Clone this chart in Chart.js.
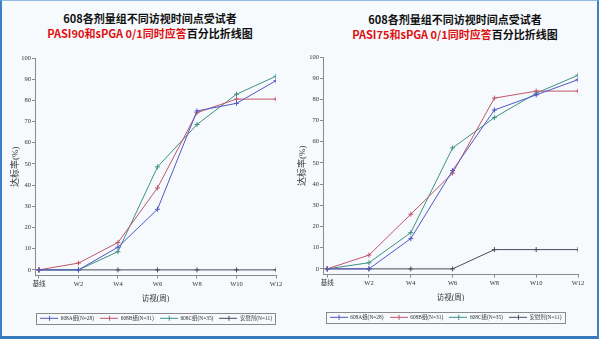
<!DOCTYPE html>
<html>
<head>
<meta charset="utf-8">
<script src="https://cdn.jsdelivr.net/npm/chart.js@4.4.1/dist/chart.umd.min.js"></script>
<style>
  html, body { margin: 0; padding: 0; }
  body { width: 599px; height: 339px; position: relative; overflow: hidden; background: #f6fafd; }
  .frame { position: absolute; left: 0; top: 0; width: 599px; height: 339px; box-sizing: border-box;
           border: 2px solid #3d80c8; border-top: 1px solid #8fbbe3; border-bottom: 3px solid #3a78bd; pointer-events: none; z-index: 5; }
  canvas { position: absolute; }
  .ttl { position: absolute; width: 300px; text-align: center; font-family: "Noto Sans CJK SC", "Noto Sans", sans-serif;
         font-weight: bold; font-size: 11px; line-height: 15px; color: #111; }
  .ttl .red { color: #e01010; }
</style>
</head>
<body>
<div class="ttl" style="left:0;top:11px">608各剂量组不同访视时间点受试者<br><span class="red">PASI90和sPGA 0/1同时应答</span>百分比折线图</div>
<div class="ttl" style="left:305px;top:12px">608各剂量组不同访视时间点受试者<br><span class="red">PASI75和sPGA 0/1同时应答</span>百分比折线图</div>
<canvas id="c90" width="300" height="297" style="left:0;top:40px"></canvas>
<canvas id="c75" width="305" height="297" style="left:294px;top:39px"></canvas>
<div class="frame"></div>
<script>
// visits and y ticks
const xLabels = ['基线', 'W2', 'W4', 'W6', 'W8', 'W10', 'W12'];
const yTicks = [0, 10, 20, 30, 40, 50, 60, 70, 80, 90, 100];
const groupNames = ['608A组(N=28)', '608B组(N=31)', '608C组(N=35)', '安慰剂(N=11)'];
const groupColors = ['#5357c2', '#c0566a', '#3f9085', '#4a4c5c'];

// PASI90 + sPGA 0/1 (%)
const a90 = [0, 0, 10.7, 28.6, 75.0, 78.6, 89.3];
const b90 = [0, 3.2, 12.9, 38.7, 74.2, 80.6, 80.6];
const c90 = [0, 0, 8.6, 48.6, 68.6, 82.9, 91.4];
const p90 = [0, 0, 0, 0, 0, 0, 0];

// PASI75 + sPGA 0/1 (%)
const a75 = [0, 0, 14.3, 46.4, 75.0, 82.1, 89.3];
const b75 = [0, 6.5, 25.8, 45.2, 80.6, 83.9, 83.9];
const c75 = [0, 2.9, 17.1, 57.1, 71.4, 82.9, 91.4];
const p75 = [0, 0, 0, 0, 9.1, 9.1, 9.1];

const serif = "'Liberation Serif', 'Noto Sans CJK SC', serif";

// little line + cross images for the legend
function legendImg(color) {
  let c = document.createElement('canvas');
  c.width = 18; c.height = 7;
  let g = c.getContext('2d');
  g.strokeStyle = color; g.lineWidth = 1;
  g.beginPath();
  g.moveTo(0, 3.5); g.lineTo(18, 3.5);
  g.moveTo(9.5, 1); g.lineTo(9.5, 6);
  g.stroke();
  return c;
}
const legendImgs = groupColors.map(legendImg);

// nudge the legend sideways and put a frame round it
const legendFrame = {
  id: 'legendFrame',
  afterLayout(chart, args, opts) {
    chart.legend.left += opts.shift;
    chart.legend.right += opts.shift;
  },
  afterDraw(chart) {
    let boxes = chart.legend.legendHitBoxes;
    if (!boxes || !boxes.length) return;
    let l = Math.min(...boxes.map(b => b.left)) - 4;
    let r = Math.max(...boxes.map(b => b.left + b.width)) + 3;
    let t = Math.min(...boxes.map(b => b.top)) - 3;
    let b = Math.max(...boxes.map(b => b.top + b.height)) + 3;
    let ctx = chart.ctx;
    ctx.save();
    ctx.strokeStyle = '#8a8a8a';
    ctx.lineWidth = 1;
    ctx.strokeRect(Math.round(l) + 0.5, Math.round(t) + 0.5, Math.round(r - l), Math.round(b - t));
    ctx.restore();
  }
};

function makeChart(id, series, padLeft, padRight, yWidth, shift) {
  let ctx = document.getElementById(id).getContext('2d');
  return new Chart(ctx, {
    type: 'line',
    data: {
      datasets: series.map((s, i) => ({
        label: groupNames[i],
        data: s.map((v, k) => ({x: k, y: v})),
        borderColor: groupColors[i],
        backgroundColor: groupColors[i],
        borderWidth: 1,
        pointStyle: 'cross',
        pointRadius: 2.5,
        pointBorderWidth: 1,
        tension: 0,
        fill: false
      }))
    },
    options: {
      responsive: false,
      animation: false,
      layout: {padding: {left: padLeft, right: padRight, top: 18, bottom: 6}},
      plugins: {
        tooltip: {enabled: false},
        legendFrame: {shift: shift},
        legend: {
          position: 'bottom',
          fullSize: true,
          labels: {
            usePointStyle: true,
            pointStyleWidth: 18,
            padding: 6,
            color: '#333',
            font: {family: serif, size: 5.4},
            generateLabels(chart) {
              let items = Chart.defaults.plugins.legend.labels.generateLabels(chart);
              items.forEach((it, i) => { it.pointStyle = legendImgs[i]; it.fontColor = '#333'; });
              return items;
            }
          }
        }
      },
      scales: {
        x: {
          type: 'linear',
          min: -0.1,
          max: 6,
          afterBuildTicks: s => { s.ticks = xLabels.map((l, i) => ({value: i})); },
          afterFit: s => { s.height = 34; },
          ticks: {
            autoSkip: false, maxRotation: 0, padding: 2, color: '#333',
            font: {family: serif, size: 6.5},
            callback: v => xLabels[v]
          },
          grid: {drawOnChartArea: false, tickLength: 3, color: '#8a8a8a'},
          border: {color: '#8a8a8a'},
          title: {display: true, text: '访视(周)', color: '#333', font: {family: serif, size: 7.5}, padding: {top: 0, bottom: 6}}
        },
        y: {
          min: -2.7,
          max: 100,
          afterBuildTicks: s => { s.ticks = yTicks.map(v => ({value: v})); },
          afterFit: s => { s.width = yWidth; },
          ticks: {padding: 1, color: '#333', font: {family: serif, size: 6.5}},
          grid: {drawOnChartArea: false, tickLength: 3, color: '#8a8a8a'},
          border: {color: '#8a8a8a'},
          title: {display: true, text: '达标率(%)', color: '#333', font: {family: serif, size: 9}, padding: {top: 0, bottom: 0}}
        }
      }
    },
    plugins: [legendFrame]
  });
}

makeChart('c90', [a90, b90, c90, p90], 10, 24, 25, 13);
makeChart('c75', [a75, b75, c75, p75], 3, 21, 26, 8);
</script>
</body>
</html>
